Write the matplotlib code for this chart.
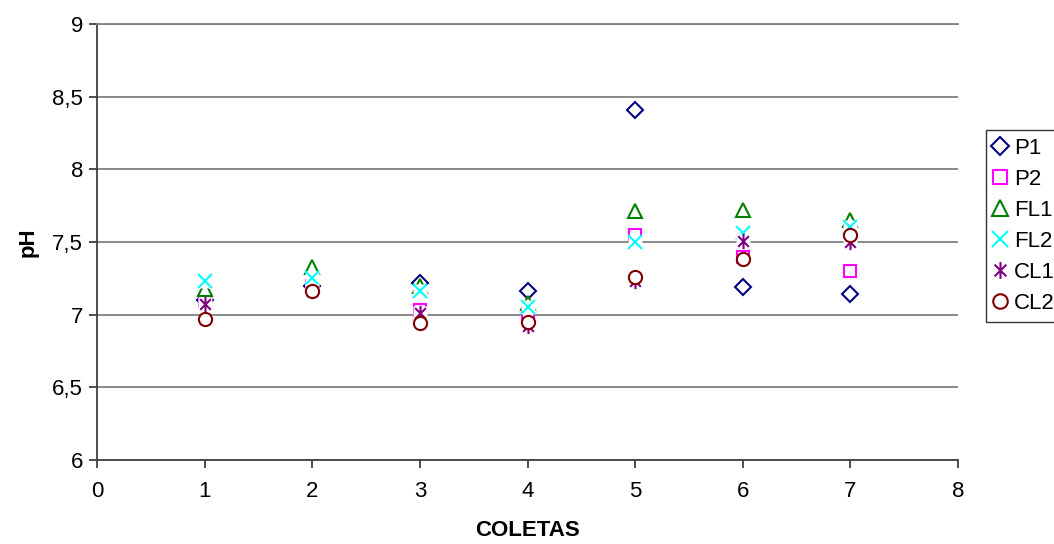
import numpy as np
import matplotlib.pyplot as plt
from matplotlib.path import Path
from matplotlib.ticker import FuncFormatter

plt.rcParams['font.family'] = ['Liberation Sans', 'DejaVu Sans']

# pH por coleta e ponto de amostragem
coletas = [1, 2, 3, 4, 5, 6, 7]
P1 = [7.10, 7.20, 7.22, 7.16, 8.41, 7.19, 7.14]
P2 = [7.10, 7.20, 7.03, 7.00, 7.55, 7.40, 7.30]
FL1 = [7.18, 7.33, 7.20, 7.08, 7.71, 7.72, 7.65]
FL2 = [7.23, 7.25, 7.16, 7.05, 7.50, 7.56, 7.60]
CL1 = [7.07, 7.16, 7.01, 6.92, 7.23, 7.51, 7.50]
CL2 = [6.97, 7.16, 6.94, 6.95, 7.26, 7.38, 7.55]

# asterisco estilo Excel: x com uma barra vertical
ast = Path([(-0.7, -0.7), (0.7, 0.7), (-0.7, 0.7), (0.7, -0.7), (0, -1), (0, 1)],
           [Path.MOVETO, Path.LINETO, Path.MOVETO, Path.LINETO, Path.MOVETO, Path.LINETO])

# nome, valores, marcador, cor, tamanho, fundo branco quadrado
series = [
    ("P1", P1, "D", "#000080", 8, False),
    ("P2", P2, "s", "#FF00FF", 9, False),
    ("FL1", FL1, "^", "#008000", 10.5, False),
    ("FL2", FL2, "x", "#00FFFF", 10.5, True),
    ("CL1", CL1, ast, "#800080", 11, True),
    ("CL2", CL2, "o", "#800000", 9.5, False),
]

fig = plt.figure(figsize=(10.54, 5.44), dpi=100)
ax = fig.add_axes([97 / 1054, 1 - 460 / 544, (958 - 97) / 1054, (460 - 24) / 544])

z = 3
for nome, vals, mk, cor, ms, fundo in series:
    if fundo:
        ax.plot(coletas, vals, linestyle="none", marker="s", markersize=ms * 0.95,
                markerfacecolor="white", markeredgecolor="none", zorder=z, clip_on=False)
    ax.plot(coletas, vals, linestyle="none", marker=mk, markersize=ms,
            markerfacecolor="white", markeredgecolor=cor, markeredgewidth=1.5,
            label=nome, zorder=z + 0.5, clip_on=False)
    z += 1

ax.set_xlim(0, 8)
ax.set_ylim(6, 9)
ax.set_xticks(range(0, 9))
ax.set_yticks(np.arange(6, 9.01, 0.5))
ax.yaxis.set_major_formatter(FuncFormatter(lambda v, p: f"{v:g}".replace(".", ",")))
ax.grid(axis="y", color="#808080", linewidth=1.3)
ax.set_axisbelow(True)

ax.spines["right"].set_visible(False)
ax.spines["top"].set_color("#808080")
ax.spines["top"].set_linewidth(1.3)
for s in ["left", "bottom"]:
    ax.spines[s].set_color("#404040")
    ax.spines[s].set_linewidth(1.3)
ax.tick_params(direction="out", length=6, width=1.3, color="#404040", labelsize=16)
ax.tick_params(axis="y", pad=4)
ax.tick_params(axis="x", pad=9)

ax.set_xlabel("COLETAS", fontsize=16, fontweight="bold", labelpad=13)
ax.set_ylabel("pH", fontsize=16, fontweight="bold", labelpad=10)

leg = fig.legend(loc="upper left", bbox_to_anchor=(986 / 1054, 1 - 130 / 544),
                 fontsize=16, frameon=True, fancybox=False, edgecolor="black",
                 handlelength=0.6, handletextpad=0.3, labelspacing=0.45,
                 borderpad=0.35, borderaxespad=0, markerscale=1.1)
leg.get_frame().set_linewidth(1.0)

fig.savefig("out.png", dpi=100)
